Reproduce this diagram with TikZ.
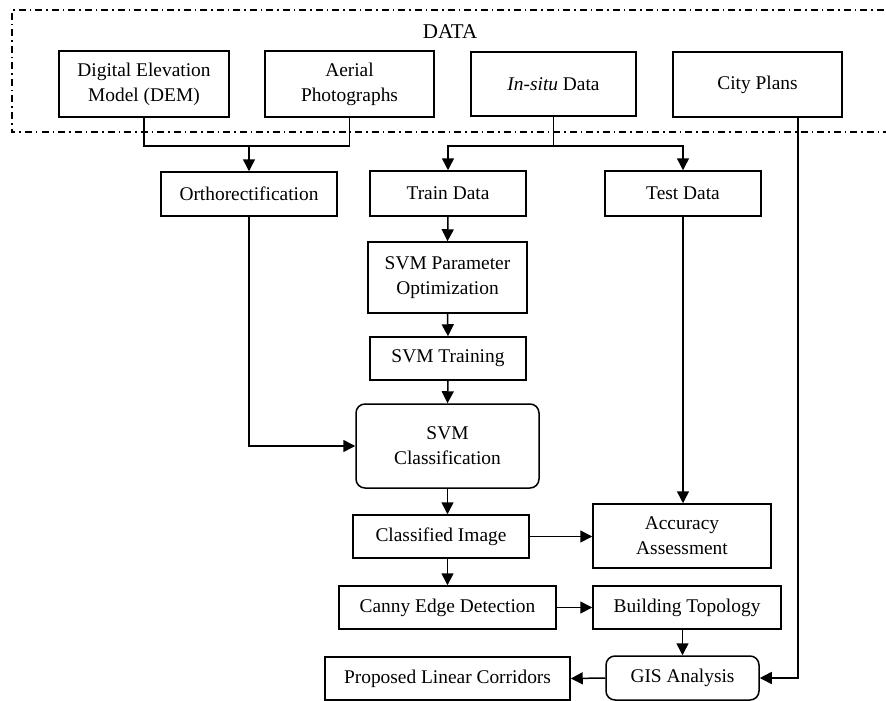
\documentclass[tikz,border=0pt]{standalone}
\usepackage{fontspec}
\setmainfont{Liberation Serif}
\usetikzlibrary{arrows.meta}
\begin{document}
\begin{tikzpicture}[x=1pt,y=-1pt,
  box/.style={draw,line width=1.5pt,inner sep=0pt,align=center,
    font=\fontsize{19.4}{25}\selectfont},
  rbox/.style={box,rounded corners=9pt},
  conn/.style={line width=1.5pt},
  arr/.style={conn,-{Triangle[length=12pt,width=12pt]}}]
\clip (0,0) rectangle (886,701);
\fill[white] (0,0) rectangle (886,701);
\draw[line width=1.5pt,dash pattern=on 7pt off 4pt on 1.5pt off 4pt] (900,10) -- (12,10) -- (12,132) -- (900,132);
\node[font=\fontsize{21}{25}\selectfont] (datalbl) at (450,31.5) {DATA};
\node[box,minimum width=170pt,minimum height=66pt] (dem) at (144,84) {Digital Elevation\\Model (DEM)};
\node[box,minimum width=169pt,minimum height=66pt] (aerial) at (349.5,84) {Aerial\\Photographs};
\node[box,minimum width=165pt,minimum height=64pt] (insitu) at (553.5,84) {\textit{In-situ} Data};
\node[box,minimum width=169pt,minimum height=65pt] (city) at (757.5,84.5) {City Plans};
\node[box,minimum width=176pt,minimum height=44pt] (ortho) at (249,194) {Orthorectification};
\node[box,minimum width=156pt,minimum height=45pt] (train) at (448,193.5) {Train Data};
\node[box,minimum width=156pt,minimum height=45pt] (test) at (683,193.5) {Test Data};
\node[box,minimum width=159pt,minimum height=71pt] (param) at (447.5,277.5) {SVM Parameter\\Optimization};
\node[box,minimum width=156pt,minimum height=43pt] (svmtrain) at (448,358.5) {SVM Training};
\node[rbox,minimum width=183pt,minimum height=84pt] (svmclass) at (447.5,446) {SVM\\Classification};
\node[box,minimum width=176pt,minimum height=43pt] (classified) at (441,536.5) {Classified Image};
\node[box,minimum width=178pt,minimum height=64pt] (accuracy) at (682,536) {Accuracy\\Assessment};
\node[box,minimum width=217pt,minimum height=43pt] (canny) at (447.5,607.5) {Canny Edge Detection};
\node[box,minimum width=188pt,minimum height=43pt] (building) at (687,607.5) {Building Topology};
\node[rbox,minimum width=153pt,minimum height=44pt] (gis) at (682.5,678) {GIS Analysis};
\node[box,minimum width=245pt,minimum height=43pt] (proposed) at (447.5,678.5) {Proposed Linear Corridors};
\coordinate (jn1) at (249,146);
\coordinate (jn2) at (553.5,146);
\draw[conn] (dem.south) |- (jn1) -| (aerial.south);
\draw[arr] (jn1) -- (ortho.north);
\draw[arr] (insitu.south) -- (jn2) -| (train.north);
\draw[arr] (jn2) -| (test.north);
\draw[arr] (train.south) -- (param.north);
\draw[arr] (param.south) -- (svmtrain.north);
\draw[arr] (svmtrain.south) -- (svmclass.north);
\draw[arr] (ortho.south) |- (svmclass.west);
\draw[arr] (test.south) -- (test.south |- accuracy.north);
\draw[arr] (svmclass.south) -- (svmclass.south |- classified.north);
\draw[arr] (classified.east) -- (classified.east -| accuracy.west);
\draw[arr] (svmclass.south |- classified.south) -- (svmclass.south |- canny.north);
\draw[arr] (canny.east) -- (building.west);
\draw[arr] (gis.north |- building.south) -- (gis.north);
\draw[arr] ([xshift=40.5pt]city.south) |- (gis.east);
\draw[arr] (gis.west) -- (proposed.east);
\end{tikzpicture}
\end{document}
